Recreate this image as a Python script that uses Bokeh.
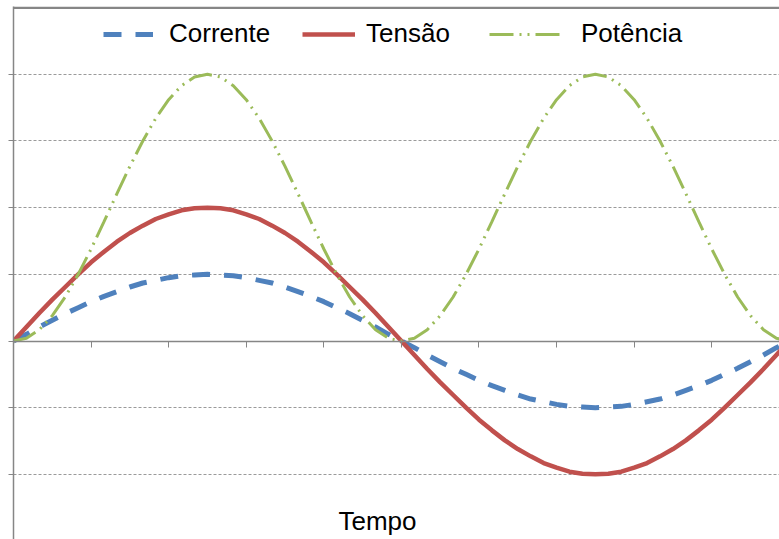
from bokeh.plotting import figure
from bokeh.models import FixedTicker, Span, Label, Legend, LegendItem, ColumnDataSource
from bokeh.embed import file_html
from bokeh.resources import INLINE

# time samples (6 degrees each)
tempo = list(range(61))

corrente = [0, 0.10, 0.21, 0.31, 0.41, 0.50, 0.59, 0.67, 0.74, 0.81, 0.87, 0.91, 0.95, 0.98, 0.99, 1.00,
            0.99, 0.98, 0.95, 0.91, 0.87, 0.81, 0.74, 0.67, 0.59, 0.50, 0.41, 0.31, 0.21, 0.10, 0,
            -0.10, -0.21, -0.31, -0.41, -0.50, -0.59, -0.67, -0.74, -0.81, -0.87, -0.91, -0.95, -0.98, -0.99, -1.00,
            -0.99, -0.98, -0.95, -0.91, -0.87, -0.81, -0.74, -0.67, -0.59, -0.50, -0.41, -0.31, -0.21, -0.10, 0]

tensao = [0, 0.21, 0.42, 0.62, 0.81, 1.00, 1.18, 1.34, 1.49, 1.62, 1.73, 1.83, 1.90, 1.96, 1.99, 2.00,
          1.99, 1.96, 1.90, 1.83, 1.73, 1.62, 1.49, 1.34, 1.18, 1.00, 0.81, 0.62, 0.42, 0.21, 0,
          -0.21, -0.42, -0.62, -0.81, -1.00, -1.18, -1.34, -1.49, -1.62, -1.73, -1.83, -1.90, -1.96, -1.99, -2.00,
          -1.99, -1.96, -1.90, -1.83, -1.73, -1.62, -1.49, -1.34, -1.18, -1.00, -0.81, -0.62, -0.42, -0.21, 0]

potencia = [0, 0.04, 0.17, 0.38, 0.66, 1.00, 1.38, 1.79, 2.21, 2.62, 3.00, 3.34, 3.62, 3.83, 3.96, 4.00,
            3.96, 3.83, 3.62, 3.34, 3.00, 2.62, 2.21, 1.79, 1.38, 1.00, 0.66, 0.38, 0.17, 0.04, 0,
            0.04, 0.17, 0.38, 0.66, 1.00, 1.38, 1.79, 2.21, 2.62, 3.00, 3.34, 3.62, 3.83, 3.96, 4.00,
            3.96, 3.83, 3.62, 3.34, 3.00, 2.62, 2.21, 1.79, 1.38, 1.00, 0.66, 0.38, 0.17, 0.04, 0]

x_ticks = [0, 6, 12, 18, 24, 30, 36, 42, 48, 54, 60]
y_ticks = [-2, -1, 0, 1, 2, 3, 4]
series_names = ["Corrente", "Tensão", "Potência"]
x_title = "Tempo"

FONT = "Liberation Sans"
GRAY = "#868686"

src = ColumnDataSource(dict(t=tempo, i=corrente, v=tensao, p=potencia))

FRAME_TOP = 6
p = figure(width=779, height=539, x_range=(0, 59.24), y_range=(-2.977, 5.017),
           output_backend="svg", toolbar_location=None,
           min_border_left=13, min_border_right=0, min_border_top=FRAME_TOP, min_border_bottom=0)
p.outline_line_color = None
p.background_fill_color = "white"
p.border_fill_color = "white"

# x axis at zero
p.xaxis.fixed_location = 0
p.xaxis.ticker = FixedTicker(ticks=x_ticks)
p.xaxis.major_label_overrides = {t: "" for t in x_ticks}
p.xaxis.major_label_standoff = 0
p.xaxis.major_tick_out = 6
p.xaxis.major_tick_in = 0
p.xaxis.minor_tick_line_color = None
p.xaxis.axis_line_color = GRAY
p.xaxis.major_tick_line_color = GRAY
p.xaxis.axis_line_width = 1.5

# y axis (no labels)
p.yaxis.ticker = FixedTicker(ticks=y_ticks)
p.yaxis.major_label_overrides = {t: "" for t in y_ticks}
p.yaxis.major_label_standoff = 0
p.yaxis.major_tick_out = 5
p.yaxis.major_tick_in = 0
p.yaxis.minor_tick_line_color = None
p.yaxis.axis_line_color = GRAY
p.yaxis.major_tick_line_color = GRAY
p.yaxis.axis_line_width = 1.5

p.xgrid.grid_line_color = None
p.ygrid.ticker = FixedTicker(ticks=[t for t in y_ticks if t != 0])
p.ygrid.grid_line_color = "#9a9a9a"
p.ygrid.grid_line_dash = "3 2"
p.ygrid.grid_line_width = 1

# top border line
p.add_layout(Span(location=5.0, dimension="width", line_color=GRAY, line_width=2.5))

r_i = p.line("t", "i", source=src, line_color="#4F81BD", line_width=5, line_dash="18 14")
r_v = p.line("t", "v", source=src, line_color="#C0504D", line_width=4.5)
r_p = p.line("t", "p", source=src, line_color="#9BBB59", line_width=3, line_dash="24 6 2 6 2 6")

# one legend per entry so each sample can have its own length (as in the reference)
frame_h = 539 - FRAME_TOP
legend_top = 17 - FRAME_TOP
legend_h = 32
entries = [(series_names[0], r_i, 90, 50, 16),
           (series_names[1], r_v, 289, 53, 11),
           (series_names[2], r_p, 476, 75, 17)]
for name, rend, vx, gw, standoff in entries:
    lg = Legend(items=[LegendItem(label=name, renderers=[rend])],
                orientation="horizontal", location=(vx, frame_h - legend_top - legend_h),
                label_text_font=FONT, label_text_font_size="26px", label_text_color="black",
                glyph_width=gw, glyph_height=20, label_standoff=standoff,
                padding=8, margin=0, border_line_color=None, background_fill_alpha=0)
    p.add_layout(lg)

p.add_layout(Label(x=28.15, y=-2.707, text=x_title, text_font=FONT, text_font_size="26px",
                   text_align="center", text_baseline="middle", text_color="black"))

open("out.html", "w").write(file_html(p, INLINE))
